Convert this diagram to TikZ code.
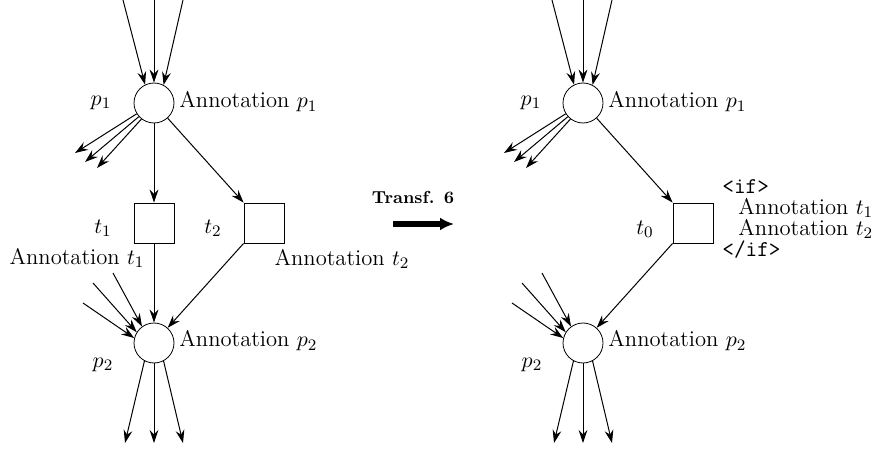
\documentclass[tikz,border=0pt]{standalone}
\usetikzlibrary{arrows.meta}

\tikzset{
  every node/.style={font=\fontsize{11.3pt}{13pt}\selectfont},
  place/.style={circle, draw, minimum size=20pt, inner sep=0pt},
  transition/.style={rectangle, draw, minimum size=20pt, inner sep=0pt},
  arc/.style={line width=0.5pt, -{Stealth[length=6.5pt, width=4.4pt, inset=2.2pt]}},
}

\begin{document}
\begin{tikzpicture}
  [x=0.5pt, y=-0.5pt]
  \useasboundingbox (0,0) rectangle (879,449);

  % net before the transformation
  \node[place] (p1) at (154,103) {};
  \node[transition] (t1) at (154,223) {};
  \node[transition] (t2) at (264,223) {};
  \node[place] (p2) at (154,343) {};

  \node (p1_name) at (101,103) {$p_1$};
  \node[anchor=west, inner sep=0pt] (p1_ann) at (179,102) {Annotation $p_1$};
  \node (t1_name) at (103,228) {$t_1$};
  \node (t1_ann) at (77,258) {Annotation $t_1$};
  \node (t2_name) at (213,228) {$t_2$};
  \node (t2_ann) at (342,259) {Annotation $t_2$};
  \node (p2_name) at (103,365) {$p_2$};
  \node[anchor=west, inner sep=0pt] (p2_ann) at (179,341) {Annotation $p_2$};

  \coordinate (in_a) at (123,0);
  \coordinate (in_b) at (154,0);
  \coordinate (in_c) at (183,0);
  \coordinate (out_a) at (75,153);
  \coordinate (out_b) at (85,162);
  \coordinate (out_c) at (97,168);
  \coordinate (in_d) at (83,303);
  \coordinate (in_e) at (93,283);
  \coordinate (in_f) at (113,273);
  \coordinate (out_d) at (125,443);
  \coordinate (out_e) at (154,443);
  \coordinate (out_f) at (183,443);

  \draw[arc] (in_a) -- (p1.116);
  \draw[arc] (in_b) -- (p1.north);
  \draw[arc] (in_c) -- (p1.62);
  \draw[arc] (p1.212) -- (out_a);
  \draw[arc] (p1.222) -- (out_b);
  \draw[arc] (p1.232) -- (out_c);
  \draw[arc] (p1) -- (t1);
  \draw[arc] (p1) -- (t2.north west);
  \draw[arc] (t1) -- (p2);
  \draw[arc] (t2.south west) -- (p2);
  \draw[arc] (in_d) -- (p2.166);
  \draw[arc] (in_e) -- (p2.148);
  \draw[arc] (in_f) -- (p2.126);
  \draw[arc] (p2.242) -- (out_d);
  \draw[arc] (p2.south) -- (out_e);
  \draw[arc] (p2.298) -- (out_f);

  % transformation arrow
  \node[font=\fontsize{8.7pt}{10pt}\selectfont\bfseries] (transf) at (413,198) {Transf. 6};
  \coordinate (transf_a) at (393,224);
  \coordinate (transf_b) at (454,224);
  \draw[line width=2.6pt, -{Latex[length=7pt, width=6.5pt]}] (transf_a) -- (transf_b);

  % net after the transformation
  \node[place] (q1) at (583,103) {};
  \node[transition] (t0) at (693,223) {};
  \node[place] (q2) at (583,343) {};

  \node (q1_name) at (531,103) {$p_1$};
  \node[anchor=west, inner sep=0pt] (q1_ann) at (608,102) {Annotation $p_1$};
  \node (t0_name) at (645,229) {$t_0$};
  \node[anchor=west, inner sep=0pt, align=left] (t0_ann) at (722,219)
    {\texttt{<if>}\\[-2.6pt]
     \hspace{8pt}Annotation $t_1$\\[-2.6pt]
     \hspace{8pt}Annotation $t_2$\\[-2.6pt]
     \texttt{</if>}};
  \node (q2_name) at (532,365) {$p_2$};
  \node[anchor=west, inner sep=0pt] (q2_ann) at (608,341) {Annotation $p_2$};

  \coordinate (in_g) at (552,0);
  \coordinate (in_h) at (583,0);
  \coordinate (in_i) at (612,0);
  \coordinate (out_g) at (504,153);
  \coordinate (out_h) at (514,162);
  \coordinate (out_i) at (526,168);
  \coordinate (in_j) at (512,303);
  \coordinate (in_k) at (522,283);
  \coordinate (in_l) at (542,273);
  \coordinate (out_j) at (554,443);
  \coordinate (out_k) at (583,443);
  \coordinate (out_l) at (612,443);

  \draw[arc] (in_g) -- (q1.116);
  \draw[arc] (in_h) -- (q1.north);
  \draw[arc] (in_i) -- (q1.62);
  \draw[arc] (q1.212) -- (out_g);
  \draw[arc] (q1.222) -- (out_h);
  \draw[arc] (q1.232) -- (out_i);
  \draw[arc] (q1) -- (t0.north west);
  \draw[arc] (t0.south west) -- (q2);
  \draw[arc] (in_j) -- (q2.166);
  \draw[arc] (in_k) -- (q2.148);
  \draw[arc] (in_l) -- (q2.126);
  \draw[arc] (q2.242) -- (out_j);
  \draw[arc] (q2.south) -- (out_k);
  \draw[arc] (q2.298) -- (out_l);
\end{tikzpicture}
\end{document}
